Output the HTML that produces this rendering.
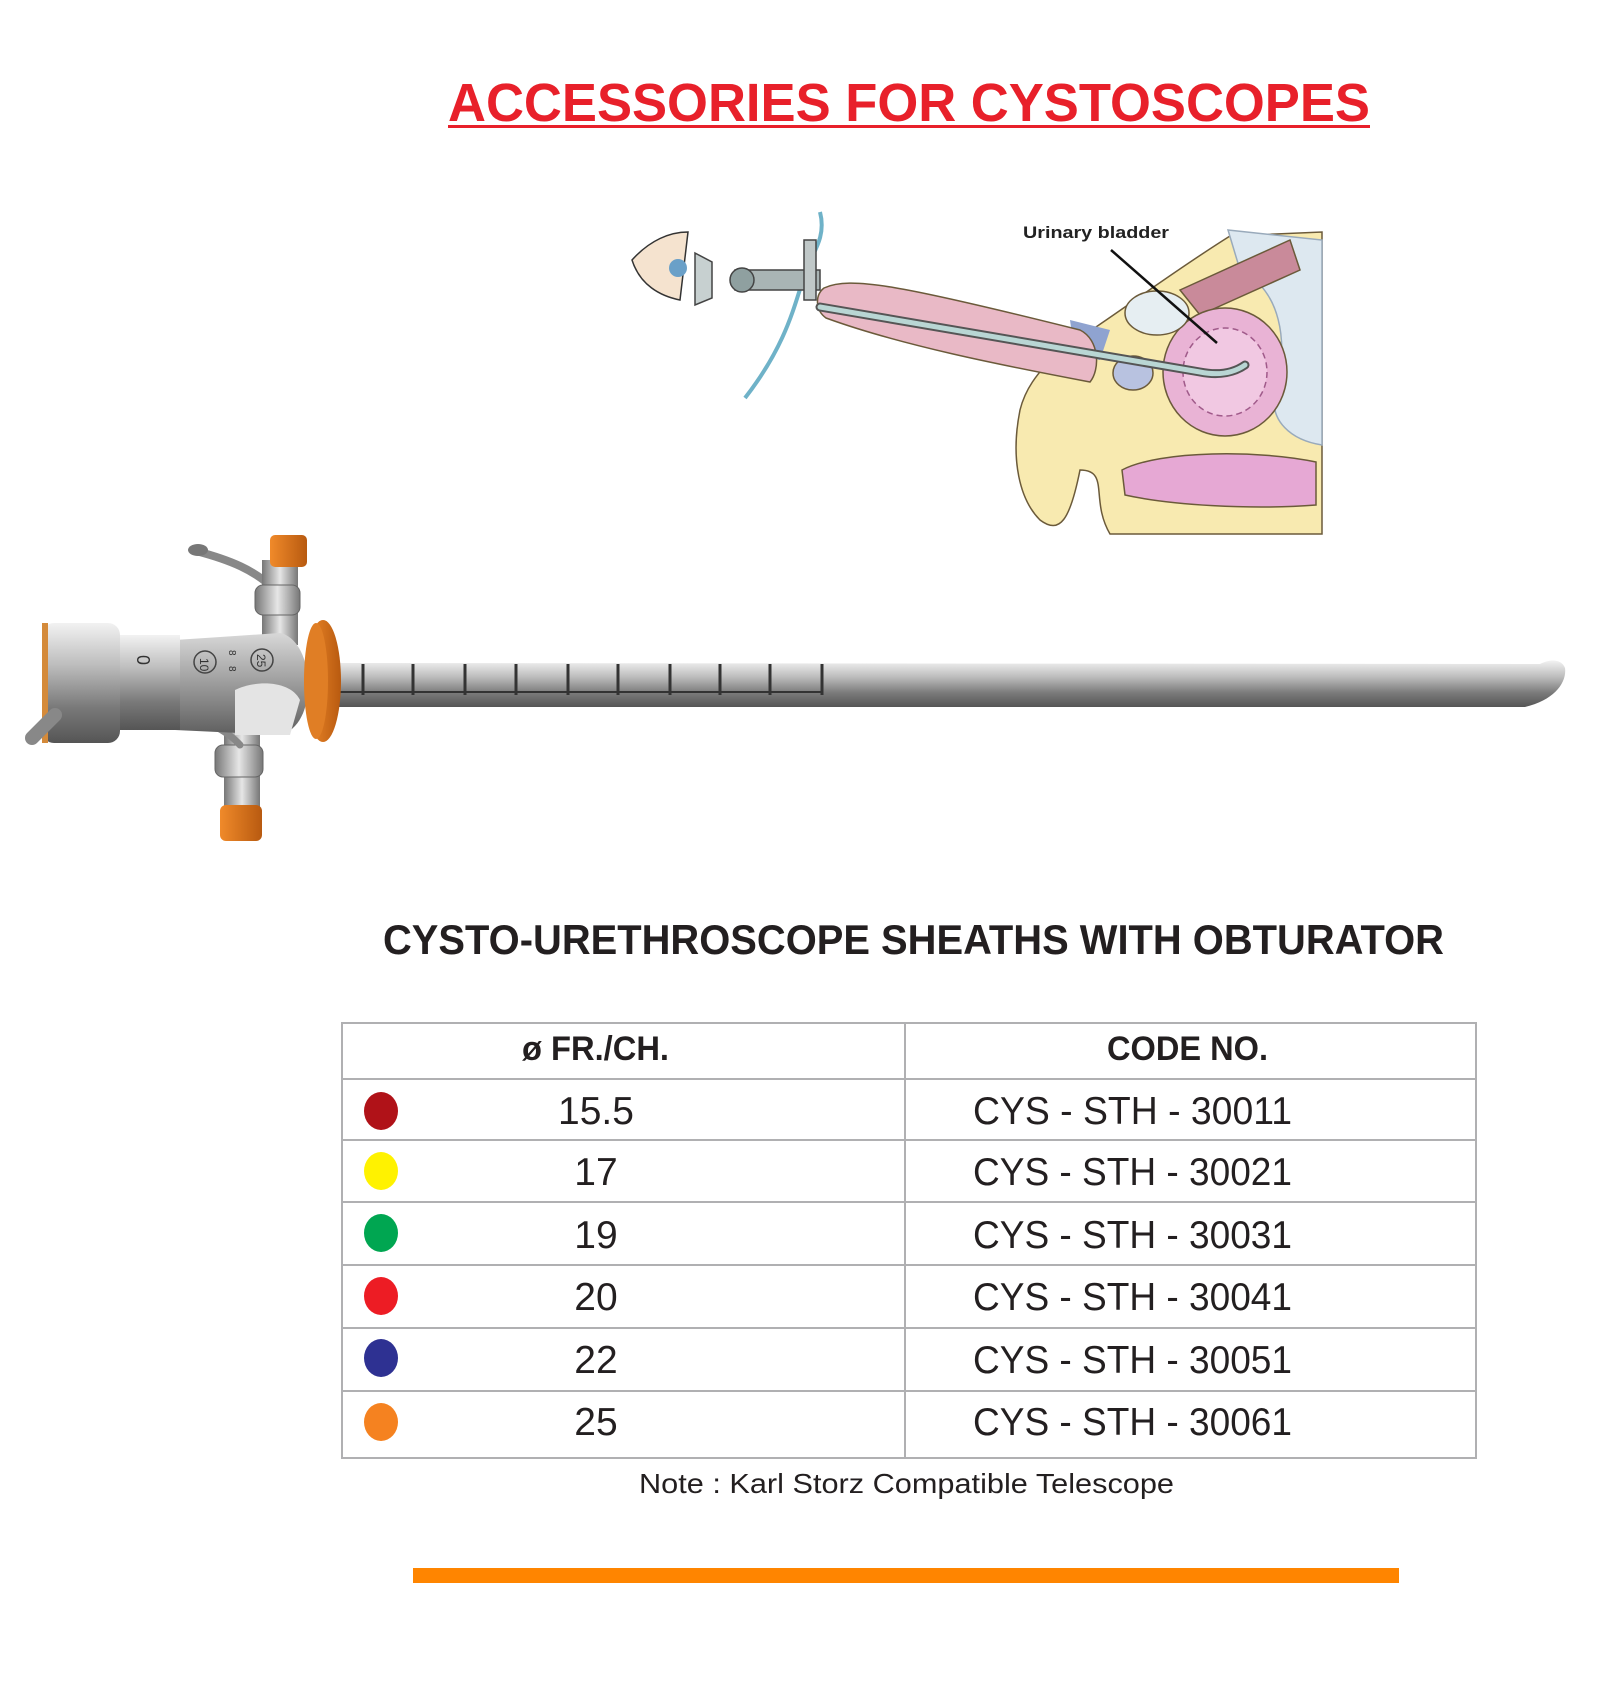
<!DOCTYPE html>
<html><head><meta charset="utf-8"><style>html,body{margin:0;padding:0;background:#fff}svg{display:block}</style></head>
<body>
<svg width="1618" height="1698" viewBox="0 0 1618 1698" xmlns="http://www.w3.org/2000/svg" font-family="Liberation Sans, sans-serif">
<defs>
<linearGradient id="steel" x1="0" y1="0" x2="0" y2="1">
<stop offset="0" stop-color="#f2f2f2"/><stop offset="0.35" stop-color="#bdbdbd"/><stop offset="0.7" stop-color="#7a7a7a"/><stop offset="1" stop-color="#555"/>
</linearGradient>
<linearGradient id="steelb" x1="0" y1="0" x2="0" y2="1">
<stop offset="0" stop-color="#d8d8d8"/><stop offset="0.4" stop-color="#a8a8a8"/><stop offset="1" stop-color="#5e5e5e"/>
</linearGradient>
<linearGradient id="steelh" x1="0" y1="0" x2="1" y2="0">
<stop offset="0" stop-color="#777"/><stop offset="0.5" stop-color="#e6e6e6"/><stop offset="1" stop-color="#777"/>
</linearGradient>
<linearGradient id="orng" x1="0" y1="0" x2="1" y2="0">
<stop offset="0" stop-color="#f08a2a"/><stop offset="1" stop-color="#b85a10"/>
</linearGradient>
</defs>

<!-- Title -->
<text x="448" y="121" font-size="54" font-weight="bold" fill="#e8202a" textLength="922" lengthAdjust="spacingAndGlyphs">ACCESSORIES FOR CYSTOSCOPES</text>
<rect x="448" y="125" width="922" height="3" fill="#e8202a"/>

<!-- Anatomy illustration -->
<g stroke="#6b5a3a" stroke-width="1.5">
<path d="M1060 350 C1110 320 1160 280 1230 236 L1322 232 L1322 534 L1110 534 C1090 500 1110 470 1080 470 C1070 520 1060 535 1040 520 C1020 500 1010 460 1020 410 C1025 390 1035 375 1060 350 Z" fill="#f8eab0"/>
<path d="M1228 230 L1322 240 L1322 445 C1290 440 1270 420 1275 395 C1290 340 1280 290 1240 270 Z" fill="#dde8f0" stroke="#9ab"/>
<path d="M1180 290 L1290 240 L1300 270 L1200 315 Z" fill="#c98a9a"/>
<ellipse cx="1225" cy="372" rx="62" ry="64" fill="#e9b3d5"/>
<ellipse cx="1225" cy="372" rx="42" ry="44" fill="#f1c8e2" stroke="#a05a8a" stroke-dasharray="6 4"/>
<ellipse cx="1157" cy="313" rx="32" ry="22" fill="#e6eef2"/>
<ellipse cx="1133" cy="373" rx="20" ry="17" fill="#b8c2e0"/>
<path d="M1070 320 L1110 330 L1100 360 L1075 355 Z" fill="#8fa3d0" stroke="none"/>
<path d="M1122 470 C1160 450 1260 450 1316 462 L1316 505 C1250 510 1170 505 1125 495 Z" fill="#e6a8d4"/>
<path d="M824 288 C850 276 900 285 1080 330 C1100 340 1100 370 1090 382 C1000 365 900 345 826 318 C815 310 815 295 824 288 Z" fill="#e9b9c6"/>
</g>
<path d="M820 307 L1200 372 C1220 376 1235 372 1245 365" fill="none" stroke="#555" stroke-width="9" stroke-linecap="round"/>
<path d="M820 307 L1200 372 C1220 376 1235 372 1245 365" fill="none" stroke="#b9d6d4" stroke-width="5" stroke-linecap="round"/>
<path d="M820 212 C826 235 815 250 808 265 C795 300 790 340 745 398" fill="none" stroke="#6fb2c8" stroke-width="4"/>
<rect x="735" y="270" width="85" height="20" fill="#a9b4b4" stroke="#444" stroke-width="1.5"/>
<circle cx="742" cy="280" r="12" fill="#8fa0a0" stroke="#444" stroke-width="1.5"/>
<path d="M695 253 L712 262 L712 298 L695 305 Z" fill="#c7d0d0" stroke="#444" stroke-width="1.5"/>
<rect x="804" y="240" width="12" height="60" fill="#c0c8c8" stroke="#444" stroke-width="1.5"/>
<path d="M632 260 C650 240 670 232 688 232 L680 300 C660 296 640 285 632 260 Z" fill="#f5e3cf" stroke="#333" stroke-width="1.5"/>
<circle cx="678" cy="268" r="9" fill="#6aa0c8"/>
<line x1="1111" y1="250" x2="1217" y2="343" stroke="#111" stroke-width="2.5"/>
<text x="1023" y="238" font-size="17" font-weight="bold" fill="#222" textLength="146" lengthAdjust="spacingAndGlyphs">Urinary bladder</text>

<!-- Instrument -->
<path d="M330 663 L1540 664 C1552 658 1562 660 1565 668 C1567 682 1555 700 1525 707 L330 707 Z" fill="url(#steel)"/>
<g stroke="#333" stroke-width="3">
<line x1="363" y1="664" x2="363" y2="695"/><line x1="413" y1="664" x2="413" y2="695"/><line x1="465" y1="664" x2="465" y2="695"/>
<line x1="516" y1="664" x2="516" y2="695"/><line x1="568" y1="664" x2="568" y2="695"/><line x1="618" y1="664" x2="618" y2="695"/>
<line x1="670" y1="664" x2="670" y2="695"/><line x1="720" y1="664" x2="720" y2="695"/><line x1="770" y1="664" x2="770" y2="695"/>
<line x1="822" y1="664" x2="822" y2="695"/>
<line x1="330" y1="692" x2="822" y2="692" stroke-width="2"/>
</g>
<!-- top port -->
<path d="M196 551 C230 560 255 570 275 590" fill="none" stroke="#888" stroke-width="8" stroke-linecap="round"/>
<ellipse cx="198" cy="550" rx="10" ry="6" fill="#777"/>
<rect x="262" y="560" width="36" height="85" fill="url(#steelh)"/>
<rect x="255" y="585" width="45" height="30" rx="8" fill="url(#steelh)" stroke="#666"/>
<rect x="270" y="535" width="37" height="32" rx="5" fill="url(#orng)"/>
<!-- bottom port -->
<rect x="224" y="720" width="36" height="95" fill="url(#steelh)"/>
<rect x="215" y="745" width="48" height="32" rx="8" fill="url(#steelh)" stroke="#666"/>
<path d="M170 712 C200 718 225 728 240 745" fill="none" stroke="#888" stroke-width="7" stroke-linecap="round"/>
<rect x="220" y="805" width="42" height="36" rx="6" fill="url(#orng)"/>
<!-- body -->
<path d="M175 640 L280 633 C315 640 320 725 280 735 L175 730 Z" fill="url(#steelb)"/>
<path d="M235 690 C255 680 290 680 300 700 L290 735 L235 735 Z" fill="#e4e4e4"/>
<rect x="115" y="635" width="65" height="95" fill="url(#steel)"/>
<rect x="42" y="623" width="78" height="120" rx="12" fill="url(#steel)"/>
<rect x="42" y="623" width="6" height="120" fill="#d48a3a"/>
<path d="M55 715 L32 738" stroke="#888" stroke-width="14" stroke-linecap="round"/>
<text x="137" y="655" font-size="18" fill="#333" transform="rotate(90 137 655)">0</text>
<circle cx="205" cy="662" r="11" fill="none" stroke="#444" stroke-width="1.5"/>
<circle cx="262" cy="660" r="11" fill="none" stroke="#444" stroke-width="1.5"/>
<text x="200" y="658" font-size="12" fill="#333" transform="rotate(90 200 658)">10</text>
<text x="257" y="654" font-size="12" fill="#333" transform="rotate(90 257 654)">25</text>
<text x="229" y="650" font-size="10" fill="#333" transform="rotate(90 229 650)">8</text>
<text x="229" y="666" font-size="10" fill="#333" transform="rotate(90 229 666)">8</text>
<!-- flange -->
<ellipse cx="323" cy="681" rx="18" ry="61" fill="url(#orng)"/>
<ellipse cx="316" cy="681" rx="12" ry="58" fill="#e07e25"/>

<!-- Subtitle -->
<text x="383" y="954" font-size="42" font-weight="bold" fill="#231f20" textLength="1061" lengthAdjust="spacingAndGlyphs">CYSTO-URETHROSCOPE SHEATHS WITH OBTURATOR</text>

<!-- Table -->
<g stroke="#b0b0b2" stroke-width="2" fill="none">
<rect x="342" y="1023" width="1134" height="435"/>
<line x1="905" y1="1023" x2="905" y2="1458"/>
<line x1="342" y1="1079" x2="1476" y2="1079"/>
<line x1="342" y1="1140" x2="1476" y2="1140"/>
<line x1="342" y1="1202" x2="1476" y2="1202"/>
<line x1="342" y1="1265" x2="1476" y2="1265"/>
<line x1="342" y1="1328" x2="1476" y2="1328"/>
<line x1="342" y1="1391" x2="1476" y2="1391"/>
</g>
<text x="522" y="1060" font-size="34" font-weight="bold" fill="#231f20" textLength="147" lengthAdjust="spacingAndGlyphs">ø FR./CH.</text>
<text x="1107" y="1060" font-size="34" font-weight="bold" fill="#231f20" textLength="161" lengthAdjust="spacingAndGlyphs">CODE NO.</text>
<g font-size="39" fill="#231f20">
<ellipse cx="381" cy="1111" rx="17" ry="19" fill="#b01218"/>
<text x="596" y="1124" text-anchor="middle">15.5</text>
<text x="973" y="1124" textLength="319" lengthAdjust="spacingAndGlyphs">CYS - STH - 30011</text>
<ellipse cx="381" cy="1171" rx="17" ry="19" fill="#fff200"/>
<text x="596" y="1185" text-anchor="middle">17</text>
<text x="973" y="1185" textLength="319" lengthAdjust="spacingAndGlyphs">CYS - STH - 30021</text>
<ellipse cx="381" cy="1233" rx="17" ry="19" fill="#00a651"/>
<text x="596" y="1248" text-anchor="middle">19</text>
<text x="973" y="1248" textLength="319" lengthAdjust="spacingAndGlyphs">CYS - STH - 30031</text>
<ellipse cx="381" cy="1296" rx="17" ry="19" fill="#ed1c24"/>
<text x="596" y="1310" text-anchor="middle">20</text>
<text x="973" y="1310" textLength="319" lengthAdjust="spacingAndGlyphs">CYS - STH - 30041</text>
<ellipse cx="381" cy="1358" rx="17" ry="19" fill="#2e3192"/>
<text x="596" y="1373" text-anchor="middle">22</text>
<text x="973" y="1373" textLength="319" lengthAdjust="spacingAndGlyphs">CYS - STH - 30051</text>
<ellipse cx="381" cy="1422" rx="17" ry="19" fill="#f58220"/>
<text x="596" y="1435" text-anchor="middle">25</text>
<text x="973" y="1435" textLength="319" lengthAdjust="spacingAndGlyphs">CYS - STH - 30061</text>
</g>
<text x="639" y="1493" font-size="28" fill="#231f20" textLength="535" lengthAdjust="spacingAndGlyphs">Note : Karl Storz Compatible Telescope</text>

<rect x="413" y="1568" width="986" height="15" fill="#ff8500"/>
</svg>
</body></html>
